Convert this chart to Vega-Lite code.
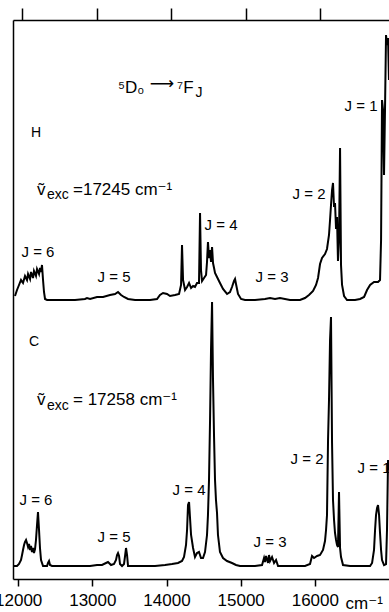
{
  "$schema": "https://vega.github.io/schema/vega-lite/v6.json",
  "width": 376,
  "height": 559,
  "autosize": {"type": "none"},
  "padding": {"left": 13, "top": 20, "right": 0, "bottom": 33},
  "background": "white",
  "config": {
    "view": {"stroke": null},
    "font": "Liberation Sans, DejaVu Sans",
    "axis": {"grid": false, "domainColor": "black", "tickColor": "black", "labelColor": "black", "titleColor": "black", "domainWidth": 1.5, "tickWidth": 1.5, "labelFont": "Liberation Sans, DejaVu Sans", "titleFont": "Liberation Sans, DejaVu Sans"}
  },
  "resolve": {"scale": {"x": "independent", "y": "independent"}, "axis": {"x": "independent", "y": "independent"}},
  "datasets": {
    "spectra": [
      {"sample":"H","wn":11957,"I":283},{"sample":"H","wn":11984,"I":289},{"sample":"H","wn":12011,"I":294},{"sample":"H","wn":12038,"I":299},{"sample":"H","wn":12065,"I":296},{"sample":"H","wn":12092,"I":303},{"sample":"H","wn":12119,"I":299},{"sample":"H","wn":12133,"I":305},{"sample":"H","wn":12160,"I":300},{"sample":"H","wn":12173,"I":307},{"sample":"H","wn":12200,"I":301},{"sample":"H","wn":12213,"I":308},{"sample":"H","wn":12240,"I":303},{"sample":"H","wn":12254,"I":310},{"sample":"H","wn":12281,"I":305},{"sample":"H","wn":12294,"I":311},{"sample":"H","wn":12308,"I":307},{"sample":"H","wn":12321,"I":314},{"sample":"H","wn":12335,"I":299},{"sample":"H","wn":12348,"I":287},{"sample":"H","wn":12362,"I":280},{"sample":"H","wn":12389,"I":279},{"sample":"H","wn":12564,"I":279},{"sample":"H","wn":12766,"I":279},{"sample":"H","wn":12901,"I":280},{"sample":"H","wn":12928,"I":281},{"sample":"H","wn":12969,"I":280},{"sample":"H","wn":13063,"I":282},{"sample":"H","wn":13144,"I":282},{"sample":"H","wn":13238,"I":284},{"sample":"H","wn":13306,"I":285},{"sample":"H","wn":13346,"I":287},{"sample":"H","wn":13387,"I":284},{"sample":"H","wn":13427,"I":282},{"sample":"H","wn":13481,"I":280},{"sample":"H","wn":13576,"I":279},{"sample":"H","wn":13778,"I":279},{"sample":"H","wn":13872,"I":280},{"sample":"H","wn":13912,"I":284},{"sample":"H","wn":13953,"I":286},{"sample":"H","wn":14007,"I":285},{"sample":"H","wn":14047,"I":283},{"sample":"H","wn":14115,"I":284},{"sample":"H","wn":14169,"I":285},{"sample":"H","wn":14196,"I":294},{"sample":"H","wn":14209,"I":334},{"sample":"H","wn":14223,"I":299},{"sample":"H","wn":14250,"I":289},{"sample":"H","wn":14277,"I":292},{"sample":"H","wn":14304,"I":296},{"sample":"H","wn":14331,"I":291},{"sample":"H","wn":14358,"I":293},{"sample":"H","wn":14384,"I":292},{"sample":"H","wn":14411,"I":296},{"sample":"H","wn":14438,"I":296},{"sample":"H","wn":14452,"I":366},{"sample":"H","wn":14465,"I":309},{"sample":"H","wn":14479,"I":298},{"sample":"H","wn":14506,"I":301},{"sample":"H","wn":14533,"I":304},{"sample":"H","wn":14546,"I":317},{"sample":"H","wn":14559,"I":337},{"sample":"H","wn":14573,"I":321},{"sample":"H","wn":14587,"I":329},{"sample":"H","wn":14600,"I":317},{"sample":"H","wn":14614,"I":332},{"sample":"H","wn":14627,"I":316},{"sample":"H","wn":14641,"I":311},{"sample":"H","wn":14654,"I":306},{"sample":"H","wn":14681,"I":302},{"sample":"H","wn":14721,"I":296},{"sample":"H","wn":14762,"I":290},{"sample":"H","wn":14816,"I":285},{"sample":"H","wn":14856,"I":287},{"sample":"H","wn":14883,"I":292},{"sample":"H","wn":14910,"I":298},{"sample":"H","wn":14924,"I":300},{"sample":"H","wn":14937,"I":295},{"sample":"H","wn":14964,"I":285},{"sample":"H","wn":15005,"I":280},{"sample":"H","wn":15059,"I":279},{"sample":"H","wn":15193,"I":279},{"sample":"H","wn":15328,"I":280},{"sample":"H","wn":15396,"I":281},{"sample":"H","wn":15463,"I":280},{"sample":"H","wn":15530,"I":281},{"sample":"H","wn":15665,"I":279},{"sample":"H","wn":15800,"I":279},{"sample":"H","wn":15867,"I":281},{"sample":"H","wn":15921,"I":284},{"sample":"H","wn":15976,"I":288},{"sample":"H","wn":16016,"I":294},{"sample":"H","wn":16043,"I":301},{"sample":"H","wn":16070,"I":315},{"sample":"H","wn":16097,"I":321},{"sample":"H","wn":16137,"I":325},{"sample":"H","wn":16164,"I":330},{"sample":"H","wn":16191,"I":344},{"sample":"H","wn":16205,"I":359},{"sample":"H","wn":16218,"I":374},{"sample":"H","wn":16232,"I":389},{"sample":"H","wn":16245,"I":396},{"sample":"H","wn":16259,"I":372},{"sample":"H","wn":16272,"I":376},{"sample":"H","wn":16286,"I":350},{"sample":"H","wn":16299,"I":362},{"sample":"H","wn":16312,"I":318},{"sample":"H","wn":16326,"I":340},{"sample":"H","wn":16340,"I":431},{"sample":"H","wn":16353,"I":314},{"sample":"H","wn":16367,"I":294},{"sample":"H","wn":16394,"I":283},{"sample":"H","wn":16434,"I":279},{"sample":"H","wn":16542,"I":279},{"sample":"H","wn":16610,"I":280},{"sample":"H","wn":16664,"I":282},{"sample":"H","wn":16704,"I":289},{"sample":"H","wn":16745,"I":294},{"sample":"H","wn":16798,"I":297},{"sample":"H","wn":16852,"I":297},{"sample":"H","wn":16879,"I":299},{"sample":"H","wn":16893,"I":339},{"sample":"H","wn":16906,"I":479},{"sample":"H","wn":16920,"I":469},{"sample":"H","wn":16933,"I":404},{"sample":"H","wn":16947,"I":474},{"sample":"H","wn":16960,"I":544},{"sample":"H","wn":16973,"I":534},{"sample":"H","wn":16987,"I":541},{"sample":"H","wn":17000,"I":499},
      {"sample":"C","wn":11930,"I":13},{"sample":"C","wn":11984,"I":13},{"sample":"C","wn":12011,"I":15},{"sample":"C","wn":12038,"I":19},{"sample":"C","wn":12052,"I":24},{"sample":"C","wn":12065,"I":29},{"sample":"C","wn":12079,"I":34},{"sample":"C","wn":12092,"I":37},{"sample":"C","wn":12106,"I":39},{"sample":"C","wn":12119,"I":36},{"sample":"C","wn":12133,"I":32},{"sample":"C","wn":12146,"I":35},{"sample":"C","wn":12160,"I":29},{"sample":"C","wn":12173,"I":33},{"sample":"C","wn":12186,"I":27},{"sample":"C","wn":12200,"I":31},{"sample":"C","wn":12213,"I":26},{"sample":"C","wn":12227,"I":30},{"sample":"C","wn":12240,"I":39},{"sample":"C","wn":12254,"I":54},{"sample":"C","wn":12267,"I":67},{"sample":"C","wn":12281,"I":49},{"sample":"C","wn":12294,"I":31},{"sample":"C","wn":12308,"I":19},{"sample":"C","wn":12335,"I":13},{"sample":"C","wn":12389,"I":13},{"sample":"C","wn":12402,"I":16},{"sample":"C","wn":12416,"I":18},{"sample":"C","wn":12429,"I":14},{"sample":"C","wn":12456,"I":13},{"sample":"C","wn":12699,"I":13},{"sample":"C","wn":12969,"I":13},{"sample":"C","wn":13063,"I":14},{"sample":"C","wn":13130,"I":14},{"sample":"C","wn":13184,"I":16},{"sample":"C","wn":13211,"I":17},{"sample":"C","wn":13252,"I":14},{"sample":"C","wn":13292,"I":15},{"sample":"C","wn":13319,"I":19},{"sample":"C","wn":13333,"I":24},{"sample":"C","wn":13346,"I":26},{"sample":"C","wn":13360,"I":23},{"sample":"C","wn":13373,"I":15},{"sample":"C","wn":13400,"I":13},{"sample":"C","wn":13427,"I":15},{"sample":"C","wn":13441,"I":23},{"sample":"C","wn":13454,"I":31},{"sample":"C","wn":13468,"I":24},{"sample":"C","wn":13481,"I":13},{"sample":"C","wn":13643,"I":13},{"sample":"C","wn":13845,"I":13},{"sample":"C","wn":13980,"I":14},{"sample":"C","wn":14074,"I":15},{"sample":"C","wn":14155,"I":16},{"sample":"C","wn":14209,"I":18},{"sample":"C","wn":14236,"I":22},{"sample":"C","wn":14263,"I":34},{"sample":"C","wn":14277,"I":49},{"sample":"C","wn":14290,"I":74},{"sample":"C","wn":14304,"I":77},{"sample":"C","wn":14317,"I":61},{"sample":"C","wn":14331,"I":44},{"sample":"C","wn":14358,"I":31},{"sample":"C","wn":14384,"I":22},{"sample":"C","wn":14411,"I":26},{"sample":"C","wn":14438,"I":27},{"sample":"C","wn":14465,"I":21},{"sample":"C","wn":14492,"I":21},{"sample":"C","wn":14519,"I":27},{"sample":"C","wn":14546,"I":44},{"sample":"C","wn":14559,"I":64},{"sample":"C","wn":14573,"I":99},{"sample":"C","wn":14587,"I":159},{"sample":"C","wn":14600,"I":229},{"sample":"C","wn":14614,"I":277},{"sample":"C","wn":14627,"I":199},{"sample":"C","wn":14641,"I":142},{"sample":"C","wn":14654,"I":99},{"sample":"C","wn":14667,"I":79},{"sample":"C","wn":14681,"I":66},{"sample":"C","wn":14694,"I":44},{"sample":"C","wn":14721,"I":27},{"sample":"C","wn":14762,"I":21},{"sample":"C","wn":14816,"I":18},{"sample":"C","wn":14883,"I":16},{"sample":"C","wn":14937,"I":14},{"sample":"C","wn":14991,"I":13},{"sample":"C","wn":15099,"I":13},{"sample":"C","wn":15193,"I":13},{"sample":"C","wn":15288,"I":14},{"sample":"C","wn":15315,"I":21},{"sample":"C","wn":15328,"I":17},{"sample":"C","wn":15342,"I":23},{"sample":"C","wn":15369,"I":16},{"sample":"C","wn":15382,"I":24},{"sample":"C","wn":15396,"I":18},{"sample":"C","wn":15423,"I":22},{"sample":"C","wn":15450,"I":16},{"sample":"C","wn":15477,"I":19},{"sample":"C","wn":15504,"I":13},{"sample":"C","wn":15665,"I":13},{"sample":"C","wn":15867,"I":13},{"sample":"C","wn":15935,"I":15},{"sample":"C","wn":15962,"I":23},{"sample":"C","wn":15989,"I":21},{"sample":"C","wn":16030,"I":23},{"sample":"C","wn":16070,"I":24},{"sample":"C","wn":16110,"I":29},{"sample":"C","wn":16137,"I":38},{"sample":"C","wn":16151,"I":49},{"sample":"C","wn":16164,"I":64},{"sample":"C","wn":16178,"I":139},{"sample":"C","wn":16191,"I":179},{"sample":"C","wn":16205,"I":239},{"sample":"C","wn":16218,"I":262},{"sample":"C","wn":16232,"I":136},{"sample":"C","wn":16245,"I":79},{"sample":"C","wn":16259,"I":59},{"sample":"C","wn":16272,"I":46},{"sample":"C","wn":16286,"I":39},{"sample":"C","wn":16299,"I":34},{"sample":"C","wn":16312,"I":32},{"sample":"C","wn":16326,"I":87},{"sample":"C","wn":16340,"I":31},{"sample":"C","wn":16353,"I":22},{"sample":"C","wn":16380,"I":14},{"sample":"C","wn":16475,"I":13},{"sample":"C","wn":16745,"I":13},{"sample":"C","wn":16772,"I":16},{"sample":"C","wn":16798,"I":29},{"sample":"C","wn":16812,"I":49},{"sample":"C","wn":16825,"I":64},{"sample":"C","wn":16839,"I":71},{"sample":"C","wn":16852,"I":74},{"sample":"C","wn":16866,"I":64},{"sample":"C","wn":16879,"I":46},{"sample":"C","wn":16893,"I":29},{"sample":"C","wn":16906,"I":19},{"sample":"C","wn":16933,"I":14},{"sample":"C","wn":16960,"I":15},{"sample":"C","wn":16973,"I":49},{"sample":"C","wn":16987,"I":119},{"sample":"C","wn":17000,"I":109}
    ]
  },
  "layer": [
    {
      "resolve": {"axis": {"x": "independent", "y": "independent"}},
      "layer": [
        {
          "data": {"name": "spectra"},
          "mark": {"type": "line", "color": "black", "strokeWidth": 2, "clip": true, "strokeJoin": "miter"},
          "encoding": {
            "x": {"field": "wn", "type": "quantitative", "scale": {"domain": [11930, 17000], "nice": false, "zero": false},
              "axis": {"orient": "bottom", "values": [12000, 13000, 14000, 15000, 16000], "format": "d", "tickSize": 7, "labelFontSize": 17, "labelPadding": 6, "labelFlush": false, "labelOverlap": false,
                "title": "cm⁻¹", "titleFontSize": 17, "titleFontWeight": "normal", "titleAlign": "left", "titleBaseline": "alphabetic", "titleAnchor": null, "titleX": 332, "titleY": 29}},
            "y": {"field": "I", "type": "quantitative", "scale": {"domain": [0, 559], "nice": false},
              "axis": {"orient": "left", "ticks": false, "labels": false, "title": null}},
            "detail": {"field": "sample"}
          }
        },
        {
          "data": {"values": [
            {"label": "J = 6", "wn": 12267, "I": 327}, {"label": "J = 5", "wn": 13292, "I": 302}, {"label": "J = 4", "wn": 14735, "I": 354},
            {"label": "J = 3", "wn": 15423, "I": 302}, {"label": "J = 2", "wn": 15922, "I": 385}, {"label": "J = 1", "wn": 16623, "I": 473},
            {"label": "J = 6", "wn": 12240, "I": 79}, {"label": "J = 5", "wn": 13292, "I": 42}, {"label": "J = 4", "wn": 14304, "I": 89},
            {"label": "J = 3", "wn": 15396, "I": 37}, {"label": "J = 2", "wn": 15895, "I": 120}, {"label": "J = 1", "wn": 16798, "I": 111}
          ]},
          "mark": {"type": "text", "fontSize": 15, "align": "center", "baseline": "middle", "color": "black"},
          "encoding": {"x": {"field": "wn", "type": "quantitative", "axis": null}, "y": {"field": "I", "type": "quantitative", "axis": null}, "text": {"field": "label"}}
        },
        {
          "data": {"values": [{"label": "H", "wn": 12240, "I": 446}, {"label": "C", "wn": 12213, "I": 237}]},
          "mark": {"type": "text", "fontSize": 14, "align": "center", "baseline": "middle", "color": "black"},
          "encoding": {"x": {"field": "wn", "type": "quantitative", "axis": null}, "y": {"field": "I", "type": "quantitative", "axis": null}, "text": {"field": "label"}}
        },
        {
          "data": {"values": [
            {"label": "ṽ", "wn": 12254, "I": 384}, {"label": "=17245 cm⁻¹", "wn": 12739, "I": 384},
            {"label": "ṽ", "wn": 12254, "I": 174}, {"label": "= 17258 cm⁻¹", "wn": 12739, "I": 174},
            {"label": "⁵D₀", "wn": 13346, "I": 486}, {"label": "⁷F", "wn": 14142, "I": 486}
          ]},
          "mark": {"type": "text", "fontSize": 17, "align": "left", "baseline": "alphabetic", "color": "black"},
          "encoding": {"x": {"field": "wn", "type": "quantitative", "axis": null}, "y": {"field": "I", "type": "quantitative", "axis": null}, "text": {"field": "label"}}
        },
        {
          "data": {"values": [
            {"label": "exc", "wn": 12389, "I": 380}, {"label": "exc", "wn": 12389, "I": 169}, {"label": "J", "wn": 14390, "I": 482}
          ]},
          "mark": {"type": "text", "fontSize": 14, "align": "left", "baseline": "alphabetic", "color": "black"},
          "encoding": {"x": {"field": "wn", "type": "quantitative", "axis": null}, "y": {"field": "I", "type": "quantitative", "axis": null}, "text": {"field": "label"}}
        },
        {
          "data": {"values": [{"label": "⟶", "wn": 13939, "I": 490}]},
          "mark": {"type": "text", "fontSize": 17, "align": "center", "baseline": "alphabetic", "color": "black", "font": "DejaVu Sans"},
          "encoding": {"x": {"field": "wn", "type": "quantitative", "axis": null}, "y": {"field": "I", "type": "quantitative", "axis": null}, "text": {"field": "label"}}
        }
      ]
    },
    {
      "data": {"values": [{"wn": 12000, "I": 0}]},
      "mark": {"type": "point", "opacity": 0},
      "encoding": {
        "x": {"field": "wn", "type": "quantitative", "scale": {"domain": [11879, 16926], "nice": false, "zero": false},
          "axis": {"orient": "top", "values": [12000, 13000, 14000, 15000, 16000], "tickSize": 12, "labels": false, "title": null}},
        "y": {"field": "I", "type": "quantitative", "scale": {"domain": [0, 559]}, "axis": null}
      }
    }
  ]
}
